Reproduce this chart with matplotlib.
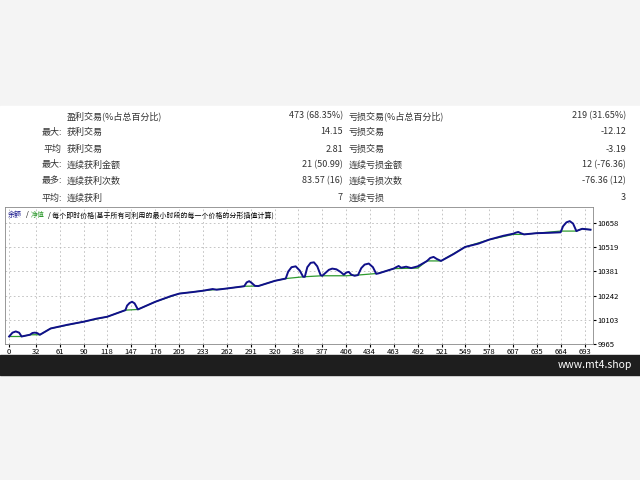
import matplotlib
matplotlib.use("Agg")
import matplotlib.pyplot as plt
import numpy as np

plt.rcParams['font.family'] = ['Noto Sans CJK SC', 'DejaVu Sans']

row_prefix = ["", "最大:", "平均", "最大:", "最多:", "平均:"]
left_labels = ["盈利交易(%占总百分比)", "获利交易", "获利交易", "连续获利金额", "连续获利次数", "连续获利"]
left_values = ["473 (68.35%)", "14.15", "2.81", "21 (50.99)", "83.57 (16)", "7"]
right_labels = ["亏损交易(%占总百分比)", "亏损交易", "亏损交易", "连续亏损金额", "连续亏损次数", "连续亏损"]
right_values = ["219 (31.65%)", "-12.12", "-3.19", "12 (-76.36)", "-76.36 (12)", "3"]

x_ticks = [0, 32, 61, 90, 118, 147, 176, 205, 233, 262, 291, 320, 348, 377, 406, 434, 463, 492, 521, 549, 578, 607, 635, 664, 693]
y_ticks = [9965, 10103, 10242, 10381, 10519, 10658]

eq_x = [0, 4, 8, 12, 15, 25, 28, 31, 34, 37, 50, 70, 90, 105, 118, 140, 142, 145, 148, 151, 155, 176, 195, 205, 220, 233, 245, 250, 262, 283, 286, 289, 292, 296, 300, 320, 333,
        336, 340, 345, 350, 354, 356, 359, 363, 367, 371, 375, 377, 385, 389, 394, 399, 403, 406, 409, 412, 416, 420,
        424, 428, 433, 438, 442, 445, 463, 466, 469, 472, 478, 481, 484, 492, 503, 507, 511, 515, 520, 535, 549, 565, 578, 595, 607, 610, 613, 616, 620, 635, 650, 664,
        667, 671, 675, 679, 683, 686, 690, 700]
eq_y = [10008, 10030, 10037, 10030, 10008, 10018, 10028, 10030, 10027, 10018, 10054, 10075, 10093, 10110, 10121, 10159, 10185, 10200, 10207, 10198, 10163, 10207, 10240, 10254, 10262, 10270, 10280, 10276, 10283, 10296, 10318, 10325, 10315, 10298, 10297, 10327, 10340,
        10380, 10405, 10410, 10385, 10350, 10350, 10405, 10430, 10433, 10410, 10360, 10356, 10390, 10397, 10393, 10378, 10362, 10375, 10378, 10362, 10356, 10360,
        10400, 10420, 10426, 10405, 10367, 10370, 10397, 10405, 10412, 10402, 10408, 10404, 10400, 10410, 10440, 10458, 10464, 10452, 10441, 10480, 10521, 10540, 10563, 10585, 10597, 10603, 10607, 10600, 10593, 10600, 10602, 10605,
        10640, 10662, 10669, 10655, 10612, 10618, 10625, 10620]
bal_x = [0, 15, 25, 37, 50, 90, 118, 140, 155, 176, 205, 233, 262, 283, 300, 320, 333, 354, 377, 406, 420, 445, 463, 492, 503, 520, 549, 578, 607, 620, 635, 664, 683, 686, 690, 700]
bal_y = [10008, 10008, 10018, 10018, 10054, 10093, 10121, 10159, 10163, 10207, 10254, 10270, 10283, 10296, 10297, 10327, 10340, 10350, 10356, 10356, 10360, 10370, 10397, 10400, 10441, 10441, 10521, 10563, 10593, 10593, 10600, 10612, 10612, 10618, 10625, 10620]

fig = plt.figure(figsize=(6.4, 4.8), dpi=100)
fig.patch.set_facecolor('#f4f4f4')
W, H = 640, 480
def fx(px): return px / W
def fy(py): return 1 - py / H

fig.add_artist(plt.Rectangle((0, fy(355)), 1, (355 - 106) / H, transform=fig.transFigure, color='white', zorder=0))
fig.add_artist(plt.Rectangle((0, fy(375)), 1, 20 / H, transform=fig.transFigure, color='#1e1e1e', zorder=0))
fig.text(fx(632), fy(365), "www.mt4.shop", color='white', fontsize=7.5, ha='right', va='center')

rows_y = [116, 132, 149, 165, 181, 198]
for i, yy in enumerate(rows_y):
    fs = 6.5
    if row_prefix[i]:
        fig.text(fx(62), fy(yy), row_prefix[i], fontsize=fs, ha='right', va='center', color='#333333')
    fig.text(fx(67), fy(yy), left_labels[i], fontsize=fs, ha='left', va='center', color='#333333')
    fig.text(fx(343), fy(yy), left_values[i], fontsize=fs, ha='right', va='center', color='#333333')
    fig.text(fx(349), fy(yy), right_labels[i], fontsize=fs, ha='left', va='center', color='#333333')
    fig.text(fx(626), fy(yy), right_values[i], fontsize=fs, ha='right', va='center', color='#333333')

ax = fig.add_axes([fx(5), fy(344), fx(593) - fx(5), (344 - 207) / H])
ax.plot(bal_x, bal_y, color='#2e9a2e', lw=0.9)
ax.plot(eq_x, eq_y, color='#10108a', lw=1.4)
ax.set_xlim(-5, 703)
ax.set_ylim(9965, 10750)
ax.set_xticks(x_ticks)
ax.set_yticks(y_ticks)
ax.yaxis.tick_right()
ax.tick_params(labelsize=5.5, length=2, pad=1)
ax.grid(True, ls=(0, (2, 3)), color='#bbbbbb', lw=0.6)
for s in ax.spines.values():
    s.set_color('#888888'); s.set_linewidth(0.6)
ax.text(0.005, 0.97, "余额", color='#10108a', fontsize=5, transform=ax.transAxes, va='top')
ax.text(0.035, 0.97, "/", fontsize=5, transform=ax.transAxes, va='top')
ax.text(0.043, 0.97, "净值", color='#2e9a2e', fontsize=5, transform=ax.transAxes, va='top')
ax.text(0.073, 0.97, "/ 每个即时价格(基于所有可利用的最小时段的每一个价格的分形插值计算)", fontsize=5, transform=ax.transAxes, va='top')

fig.savefig("out.png", dpi=100, facecolor=fig.get_facecolor())
